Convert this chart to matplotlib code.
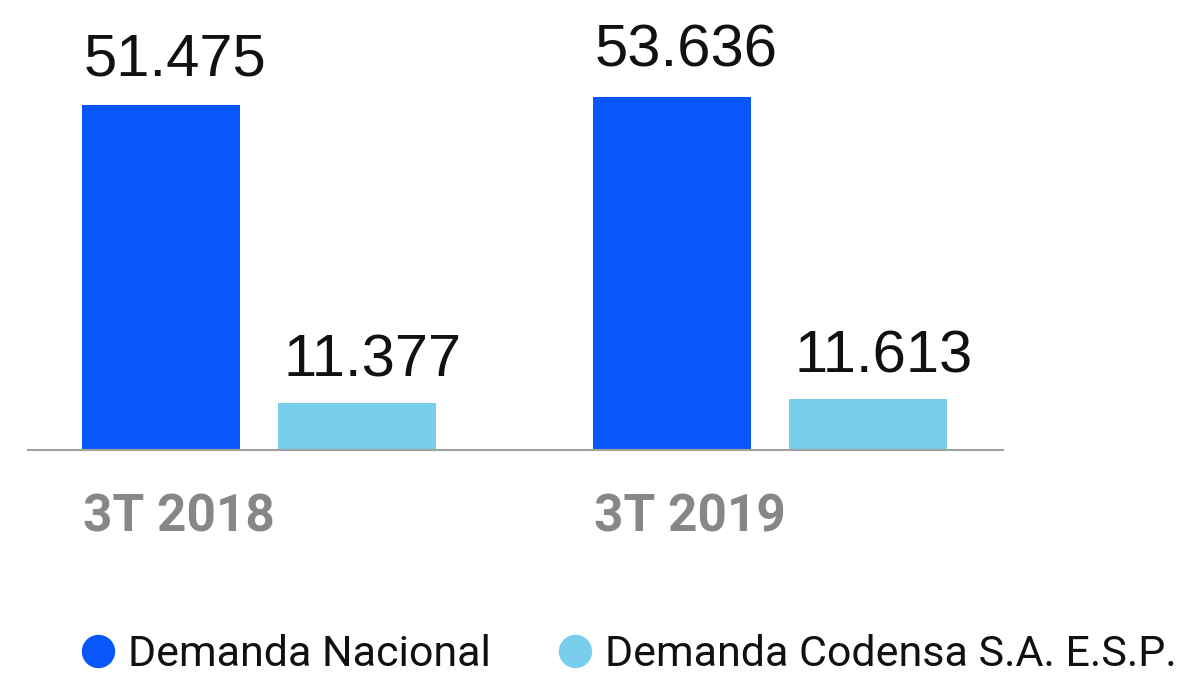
import matplotlib
matplotlib.use("Agg")
import matplotlib.pyplot as plt
from matplotlib.lines import Line2D
import numpy as np

categories = ["3T 2018", "3T 2019"]
series_names = ["Demanda Nacional", "Demanda Codensa S.A. E.S.P."]
nacional = [51.475, 53.636]
codensa = [11.377, 11.613]
value_labels_nacional = ["51.475", "53.636"]
value_labels_codensa = ["11.377", "11.613"]

c_nac = "#0757FB"
c_cod = "#7ACEED"

W, H = 1200, 679
fig = plt.figure(figsize=(W / 100, H / 100), dpi=100)
ax = fig.add_axes([28 / W, 229 / H, 975 / W, 450 / H])

x = np.arange(len(categories))
bw = 0.309
off = 0.192

ax.bar(x - off, nacional, width=bw, color=c_nac, bottom=0.0001)
ax.bar(x + off, codensa, width=bw, color=c_cod, bottom=0.0001)

ax.set_yscale("log")
ax.set_ylim(8.96, 87.7)
ax.set_xlim(-0.452, 1.456)

for s in ["top", "right", "left"]:
    ax.spines[s].set_visible(False)
ax.spines["bottom"].set_color("#A0A0A0")
ax.spines["bottom"].set_linewidth(1.5)
ax.set_xticks([])
ax.set_yticks([])
ax.yaxis.set_minor_locator(matplotlib.ticker.NullLocator())

px = 72 / 100  # points per pixel
num_font = dict(fontsize=43, family="Liberation Sans", color="#111111")
for xi, v, lab in zip(x - off - bw / 2, nacional, value_labels_nacional):
    ax.annotate(lab, xy=(xi, v), xytext=(2 * px, 30 * px), textcoords="offset points",
                ha="left", va="baseline", **num_font)
for xi, v, lab in zip(x + off - bw / 2, codensa, value_labels_codensa):
    ax.annotate(lab, xy=(xi, v), xytext=(5 * px, 26 * px), textcoords="offset points",
                ha="left", va="baseline", **num_font)

for xi, cat in zip(x - off - bw / 2, categories):
    ax.annotate(cat, xy=(xi, 0), xycoords=("data", "axes fraction"),
                xytext=(1 * px, -82 * px), textcoords="offset points",
                ha="left", va="baseline", fontsize=37, family="Roboto",
                fontweight="bold", color="#878787")

handles = [Line2D([], [], marker="o", linestyle="none", markersize=23,
                  markerfacecolor=c, markeredgecolor=c) for c in (c_nac, c_cod)]
leg = fig.legend(handles, series_names, loc="lower left",
                 bbox_to_anchor=(51 / W, -26 / H), ncol=2, frameon=False,
                 prop={"family": "Roboto", "size": 31}, handlelength=0.8,
                 handletextpad=0.3, columnspacing=1.55, borderpad=0.2)
for t in leg.get_texts():
    t.set_color("#111111")

fig.savefig("out.png", dpi=100)
